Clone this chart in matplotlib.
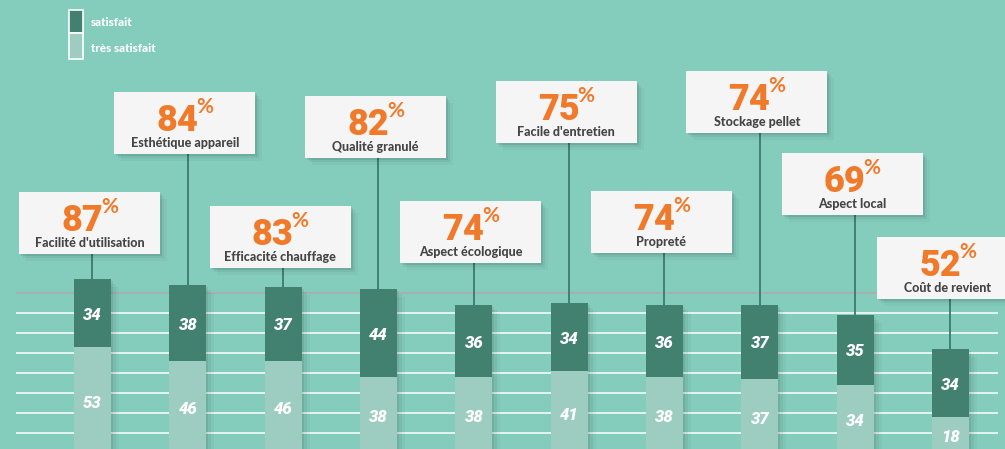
import matplotlib.pyplot as plt
from matplotlib.patches import Rectangle
from matplotlib.transforms import offset_copy

labels = ["Facilité d'utilisation", "Esthétique appareil", "Efficacité chauffage",
          "Qualité granulé", "Aspect écologique", "Facile d'entretien", "Propreté",
          "Stockage pellet", "Aspect local", "Coût de revient"]
totals = [87, 84, 83, 82, 74, 75, 74, 74, 69, 52]
satisfait = [34, 38, 37, 44, 36, 34, 36, 37, 35, 34]
tres_satisfait = [53, 46, 46, 38, 38, 41, 38, 37, 34, 18]

# layout: bottom of each label box (in value units)
box_bottom = [99.5, 149.5, 92.5, 147.5, 95, 155, 100, 160, 119, 77]

BG = '#84cdbd'
DARK = '#42806f'
LIGHT = '#9dcdc1'
ORANGE = '#f07a2a'
BOXC = '#f5f5f5'
TXT = '#454545'
FONT = 'Lato'
NUMFONT = 'Roboto'

fig = plt.figure(figsize=(10.05, 4.49), dpi=100, facecolor=BG)
ax = fig.add_axes([0, 0, 1, 1])
ax.set_facecolor(BG)
ax.set_xlim(-0.970, 9.572)
ax.set_ylim(2, 226.5)
ax.axis('off')

xs = list(range(len(labels)))
ppx = 95.33  # pixels per x unit
bw = 37 / ppx

# gridlines
for v in range(10, 80, 10):
    ax.hlines(v, -0.80, 9.50, color='white', lw=1.3, alpha=0.85, zorder=1)
ax.hlines(80, -0.80, 9.50, color='#a2b2ad', lw=1.6, zorder=1)

# bar shadows
for x, t in zip(xs, totals):
    for k, a in [(2, 0.07), (5, 0.05), (8, 0.03)]:
        ax.add_patch(Rectangle((x - bw / 2 + k / ppx, -10), bw, t + 10 - k / 2,
                               color='black', alpha=a, lw=0, zorder=2))

ax.bar(xs, [t + 10 for t in tres_satisfait], bottom=-10, width=bw, color=LIGHT, zorder=3)
ax.bar(xs, satisfait, bottom=tres_satisfait, width=bw, color=DARK, zorder=3)

for x, s, ts in zip(xs, satisfait, tres_satisfait):
    ax.text(x, ts + s / 2 - 1, str(s), ha='center', va='center', color='white',
            fontsize=12, fontweight=900, style='italic', family=NUMFONT, zorder=4)
    ax.text(x, ts / 2 - 1.5, str(ts), ha='center', va='center', color='white',
            fontsize=12, fontweight=900, style='italic', family=NUMFONT, zorder=4)

fig.canvas.draw()
renderer = fig.canvas.get_renderer()


def text_width(s, **kw):
    t = ax.text(0, 0, s, **kw)
    w = t.get_window_extent(renderer).width
    t.remove()
    return w


num_kw = dict(fontsize=26, fontweight=900, color=ORANGE, family=NUMFONT)
pct_kw = dict(fontsize=15, fontweight='bold', color=ORANGE, family=FONT)

bwid = 141 / ppx
bh = 31
for x, t, lab, yb in zip(xs, totals, labels, box_bottom):
    cx = x - 3 / ppx
    # stem
    ax.vlines(x, t, yb, color='#3b7a6a', lw=1.3, zorder=2)
    # shadow
    for k, a in [(2, 0.08), (4, 0.05), (7, 0.03)]:
        ax.add_patch(Rectangle((cx - bwid / 2 + k / ppx, yb - k / 2), bwid, bh,
                               color='black', alpha=a, lw=0, zorder=5))
    ax.add_patch(Rectangle((cx - bwid / 2, yb), bwid, bh, color=BOXC, lw=0, zorder=6))
    wn = text_width(str(t), **num_kw)
    wp = text_width('%', **pct_kw)
    gap = -2
    left = -(wn + wp + gap) / 2
    tr_n = offset_copy(ax.transData, fig=fig, x=left, y=0, units='dots')
    tr_p = offset_copy(ax.transData, fig=fig, x=left + wn + gap, y=0, units='dots')
    ax.text(cx, yb + 11.5, str(t), ha='left', va='baseline', transform=tr_n,
            zorder=7, **num_kw)
    ax.text(cx, yb + 20.5, '%', ha='left', va='baseline', transform=tr_p,
            zorder=7, **pct_kw)
    ax.text(cx, yb + 3.5, lab, ha='center', va='baseline', color=TXT, fontsize=9,
            fontweight=900, family=FONT, zorder=7)

# legend
lx0, lw_ = -0.970 + 69 / ppx, 14 / ppx
ax.add_patch(Rectangle((lx0, (453 - 33) / 2), lw_, 11.5, facecolor=DARK,
                       edgecolor='white', lw=1.2, zorder=6))
ax.add_patch(Rectangle((lx0, (453 - 59) / 2), lw_, 13, facecolor=LIGHT,
                       edgecolor='white', lw=1.2, zorder=6))
ax.text(-0.970 + 91 / ppx, (453 - 23) / 2, 'satisfait', ha='left', va='center',
        color='white', fontsize=8.5, fontweight=900, family=FONT)
ax.text(-0.970 + 91 / ppx, (453 - 48) / 2, 'très satisfait', ha='left', va='center',
        color='white', fontsize=8.5, fontweight=900, family=FONT)

fig.savefig('out.png', dpi=100, facecolor=BG)
